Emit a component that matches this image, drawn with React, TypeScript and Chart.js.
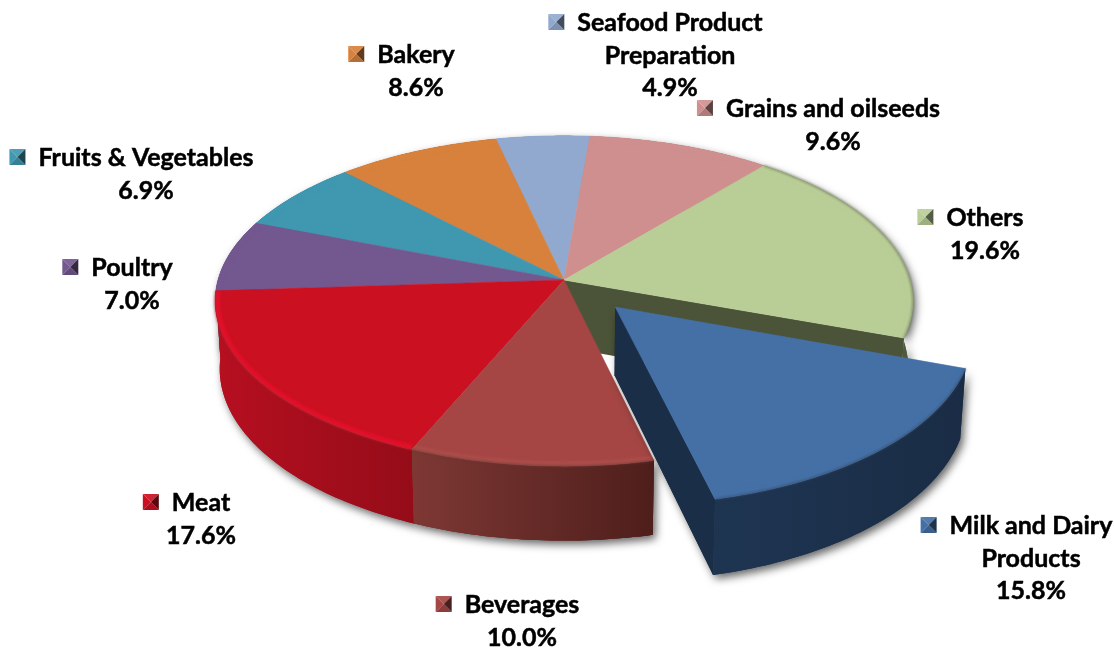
import React, { useEffect, useRef } from "react";
import { Chart, registerables } from "chart.js";

Chart.register(...registerables);

const categories = ["Others", "Milk and Dairy Products", "Beverages", "Meat", "Poultry", "Fruits & Vegetables", "Bakery", "Seafood Product Preparation", "Grains and oilseeds"];
const shares = [19.6, 15.8, 10.0, 17.6, 7.0, 6.9, 8.6, 4.9, 9.6];
const labelLines = [["Others"], ["Milk and Dairy", "Products"], ["Beverages"], ["Meat"], ["Poultry"], ["Fruits & Vegetables"], ["Bakery"], ["Seafood Product", "Preparation"], ["Grains and oilseeds"]];
const explode = [0, 64, 0, 0, 0, 0, 0, 0, 0];

const topColors = ["#B9CD96", "#4470A6", "#A54644", "#CB1022", "#73578F", "#3F97B0", "#D7813C", "#92A9CF", "#CF8F8F"];
const rimColors = ["#B9CD96", "#4470A6", "#AE4E4A", "#E80F2A", "#73578F", "#3F97B0", "#D7813C", "#92A9CF", "#CF8F8F"];
const wallLeft = ["#4F5A3A", "#1E3552", "#7E3834", "#B60F20", "#5A4470", "#2F7288", "#A8652E", "#7285A3", "#A27070"];
const wallRight = ["#4F5A3A", "#1A2C45", "#4E1E1B", "#950C18", "#5A4470", "#2F7288", "#A8652E", "#7285A3", "#A27070"];
const radialWall = "#4B5339";
const explodedWall = "#1A2E47";

// label anchor: centre x, first line centre y
const labelX = [985, 1031, 522, 201, 132, 146, 416, 670, 833];
const labelY = [218, 526, 605, 503, 268, 158, 55, 23, 109];

// 3D view of the pie
const CX = 564, CY = 280, RX = 346, RY = 162.5, PERSP = 0.127, EXPLODED_STRETCH = 1.015;
const LINE = 32.5;

type P = [number, number];
const proj = (u: number, v: number): P => {
  const d = 1 - PERSP * v;
  return [CX + (RX * u) / d, CY + (RY * v) / d];
};
const lower = ([x, y]: P): P => [CX + (x - CX) * 0.987, CY + 67 + (y - CY) * 1.04];

const mix = (hex: string, t: number) => {
  const n = parseInt(hex.slice(1), 16);
  const c = [n >> 16, (n >> 8) & 255, n & 255].map((k) => Math.round(t < 0 ? k * (1 + t) : k + (255 - k) * t));
  return `rgb(${c[0]},${c[1]},${c[2]})`;
};

const trace = (ctx: CanvasRenderingContext2D, pts: P[]) => {
  ctx.beginPath();
  pts.forEach((p, i) => (i ? ctx.lineTo(p[0], p[1]) : ctx.moveTo(p[0], p[1])));
  ctx.closePath();
};
const castShadow = (ctx: CanvasRenderingContext2D) => {
  ctx.shadowColor = "rgba(0,0,0,0.6)";
  ctx.shadowBlur = 8;
  ctx.shadowOffsetX = 3;
  ctx.shadowOffsetY = 4;
};

const view3d = {
  id: "view3d",
  beforeDatasetDraw(chart: any) {
    const ctx: CanvasRenderingContext2D = chart.ctx;
    const arcs = chart.getDatasetMeta(0).data;
    const slices = arcs.map((el: any, i: number) => {
      const R = el.outerRadius;
      const off = (el.options.offset || 0) / R;
      const mid = (el.startAngle + el.endAngle) / 2;
      const ou = off * Math.cos(mid), ov = off * Math.sin(mid);
      const stretch = off > 0 ? EXPLODED_STRETCH : 1;
      const rim: P[] = [];
      const n = Math.max(8, Math.round(((el.endAngle - el.startAngle) * 180) / Math.PI));
      for (let k = 0; k <= n; k++) {
        const a = el.startAngle + ((el.endAngle - el.startAngle) * k) / n;
        rim.push(proj(ou + Math.cos(a), ov + Math.sin(a) * stretch));
      }
      return { i, apex: proj(ou, ov), rim, off, depth: Math.max(...rim.map((p) => p[1])) };
    });

    const drawWall = (s: any, shadow: boolean) => {
      const xs = s.rim.map((p: P) => p[0]);
      const g = ctx.createLinearGradient(Math.min(...xs), 0, Math.max(...xs) + 1, 0);
      g.addColorStop(0, wallLeft[s.i]);
      g.addColorStop(1, wallRight[s.i]);
      ctx.save();
      if (shadow) castShadow(ctx);
      ctx.fillStyle = g;
      trace(ctx, [...s.rim, ...[...s.rim].reverse().map(lower)]);
      ctx.fill();
      ctx.restore();
    };

    const strokeRim = (s: any) => {
      ctx.beginPath();
      s.rim.forEach((p: P, k: number) => (k ? ctx.lineTo(p[0], p[1]) : ctx.moveTo(p[0], p[1])));
      ctx.stroke();
    };

    const drawTop = (s: any) => {
      const outline: P[] = [s.apex, ...s.rim];
      ctx.fillStyle = topColors[s.i];
      ctx.strokeStyle = topColors[s.i];
      ctx.lineWidth = 0.6;
      trace(ctx, outline);
      ctx.fill();
      ctx.stroke();
      // soft bevel inside the outer rim
      ctx.save();
      trace(ctx, outline);
      ctx.clip();
      ctx.filter = "blur(1.5px)";
      ctx.strokeStyle = rimColors[s.i];
      ctx.lineWidth = 9;
      strokeRim(s);
      ctx.restore();
      // blurred edge between top face and wall
      ctx.save();
      ctx.filter = "blur(1.2px)";
      ctx.strokeStyle = mix(wallRight[s.i], 0.12);
      ctx.globalAlpha = 0.7;
      ctx.lineWidth = 1.6;
      if (s.depth > CY + 20) strokeRim(s);
      ctx.restore();
    };

    const radial = (a: P, b: P, color: string, shadow: boolean) => {
      ctx.save();
      if (shadow) castShadow(ctx);
      ctx.fillStyle = color;
      trace(ctx, [a, b, lower(b), lower(a)]);
      ctx.fill();
      ctx.restore();
    };

    const still = slices.filter((s: any) => s.off === 0).sort((a: any, b: any) => a.depth - b.depth);
    const moved = slices.filter((s: any) => s.off !== 0);

    still.forEach((s: any) => drawWall(s, true));
    still.forEach((s: any) => drawWall(s, false));
    // wall exposed by the pulled-out slice, then the slices in front of it again
    moved.forEach((m: any) => {
      const prev = slices[(m.i - 1 + slices.length) % slices.length];
      radial(prev.apex, prev.rim[prev.rim.length - 1], radialWall, false);
      drawWall(slices[(m.i + 1) % slices.length], false);
    });
    still.forEach(drawTop);

    moved.forEach((m: any) => {
      const edge = m.rim[m.rim.length - 1];
      radial(m.apex, edge, explodedWall, true);
      drawWall(m, true);
      radial(m.apex, edge, explodedWall, false);
      drawWall(m, false);
      drawTop(m);
    });
    return false;
  },
  afterDraw(chart: any) {
    const ctx: CanvasRenderingContext2D = chart.ctx;
    ctx.save();
    ctx.font = 'bold 25px Lato, "Open Sans", sans-serif';
    ctx.textAlign = "center";
    ctx.textBaseline = "middle";
    ctx.lineWidth = 0.5;
    ctx.strokeStyle = "#000";
    categories.forEach((_, i) => {
      const lines = [...labelLines[i], shares[i].toFixed(1) + "%"];
      ctx.fillStyle = "#000";
      lines.forEach((t, k) => {
        ctx.fillText(t, labelX[i], labelY[i] + k * LINE);
        ctx.strokeText(t, labelX[i], labelY[i] + k * LINE);
      });
      const w = ctx.measureText(lines[0]).width;
      const mx = labelX[i] - w / 2 - 29, my = labelY[i] - 9, S = 16;
      const c: P = [mx + S / 2, my + S / 2];
      const tri = (a: P, b: P, col: string) => {
        ctx.fillStyle = col;
        ctx.beginPath();
        ctx.moveTo(c[0], c[1]);
        ctx.lineTo(a[0], a[1]);
        ctx.lineTo(b[0], b[1]);
        ctx.closePath();
        ctx.fill();
      };
      const tl: P = [mx, my], tr: P = [mx + S, my], bl: P = [mx, my + S], br: P = [mx + S, my + S];
      tri(tl, bl, topColors[i]);
      tri(bl, br, mix(topColors[i], -0.15));
      tri(tl, tr, mix(topColors[i], 0.08));
      tri(tr, br, mix(topColors[i], -0.55));
    });
    ctx.restore();
  },
};

export default function App() {
  const ref = useRef<HTMLCanvasElement>(null);
  useEffect(() => {
    document.body.style.margin = "0";
    document.body.style.background = "#fff";
    const chart = new Chart(ref.current!, {
      type: "pie",
      data: {
        labels: categories,
        datasets: [{ data: shares, backgroundColor: topColors, borderWidth: 0, offset: explode }],
      },
      options: {
        animation: false,
        responsive: false,
        rotation: 39.4,
        plugins: { legend: { display: false }, tooltip: { enabled: false } },
      },
      plugins: [view3d],
    } as any);
    return () => chart.destroy();
  }, []);
  return <canvas ref={ref} width={1114} height={650} style={{ display: "block" }} />;
}
